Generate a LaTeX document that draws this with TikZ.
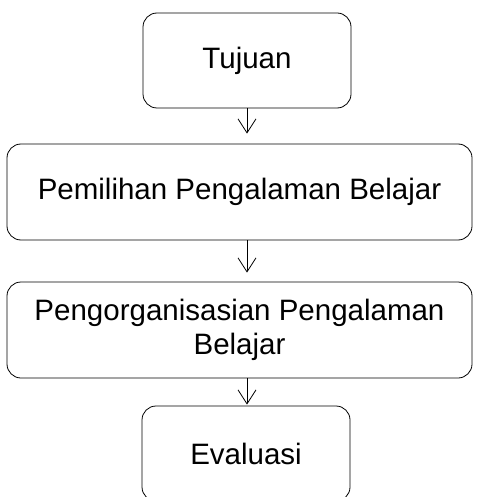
\documentclass[tikz,border=0pt]{standalone}
\usepackage{fontspec}
\setmainfont{Liberation Sans}
\usetikzlibrary{arrows.meta,positioning,calc}

\begin{document}
\begin{tikzpicture}[x=1pt,y=1pt,line width=0.8pt,
   >={Straight Barb[length=14pt,width=18pt,line width=0.8pt]},
   box/.style={draw,rounded corners=14pt,align=center,inner sep=0pt,
     font=\fontsize{29.5}{34}\selectfont},
   smallbox/.style={box,minimum width=208pt,minimum height=95pt},
   widebox/.style={box,minimum width=465pt,minimum height=96pt}]
  \useasboundingbox (0,0) rectangle (497,-497);
  \node[smallbox] (tuj) at (247,-60.5) {Tujuan};
  \node[widebox] (pil) at (239.5,-192) {Pemilihan Pengalaman Belajar};
  \node[widebox] (org) at (239.5,-330) {Pengorganisasian Pengalaman\\Belajar};
  \node[smallbox] (eva) at (246,-453.5) {Evaluasi};
  \draw[->,shorten >=10pt] (tuj.south) -- (tuj.south |- pil.north);
  \draw[->,shorten >=9pt] (tuj.south |- pil.south) -- (tuj.south |- org.north);
  \draw[->,shorten >=1pt] (tuj.south |- org.south) -- (tuj.south |- eva.north);
\end{tikzpicture}
\end{document}
